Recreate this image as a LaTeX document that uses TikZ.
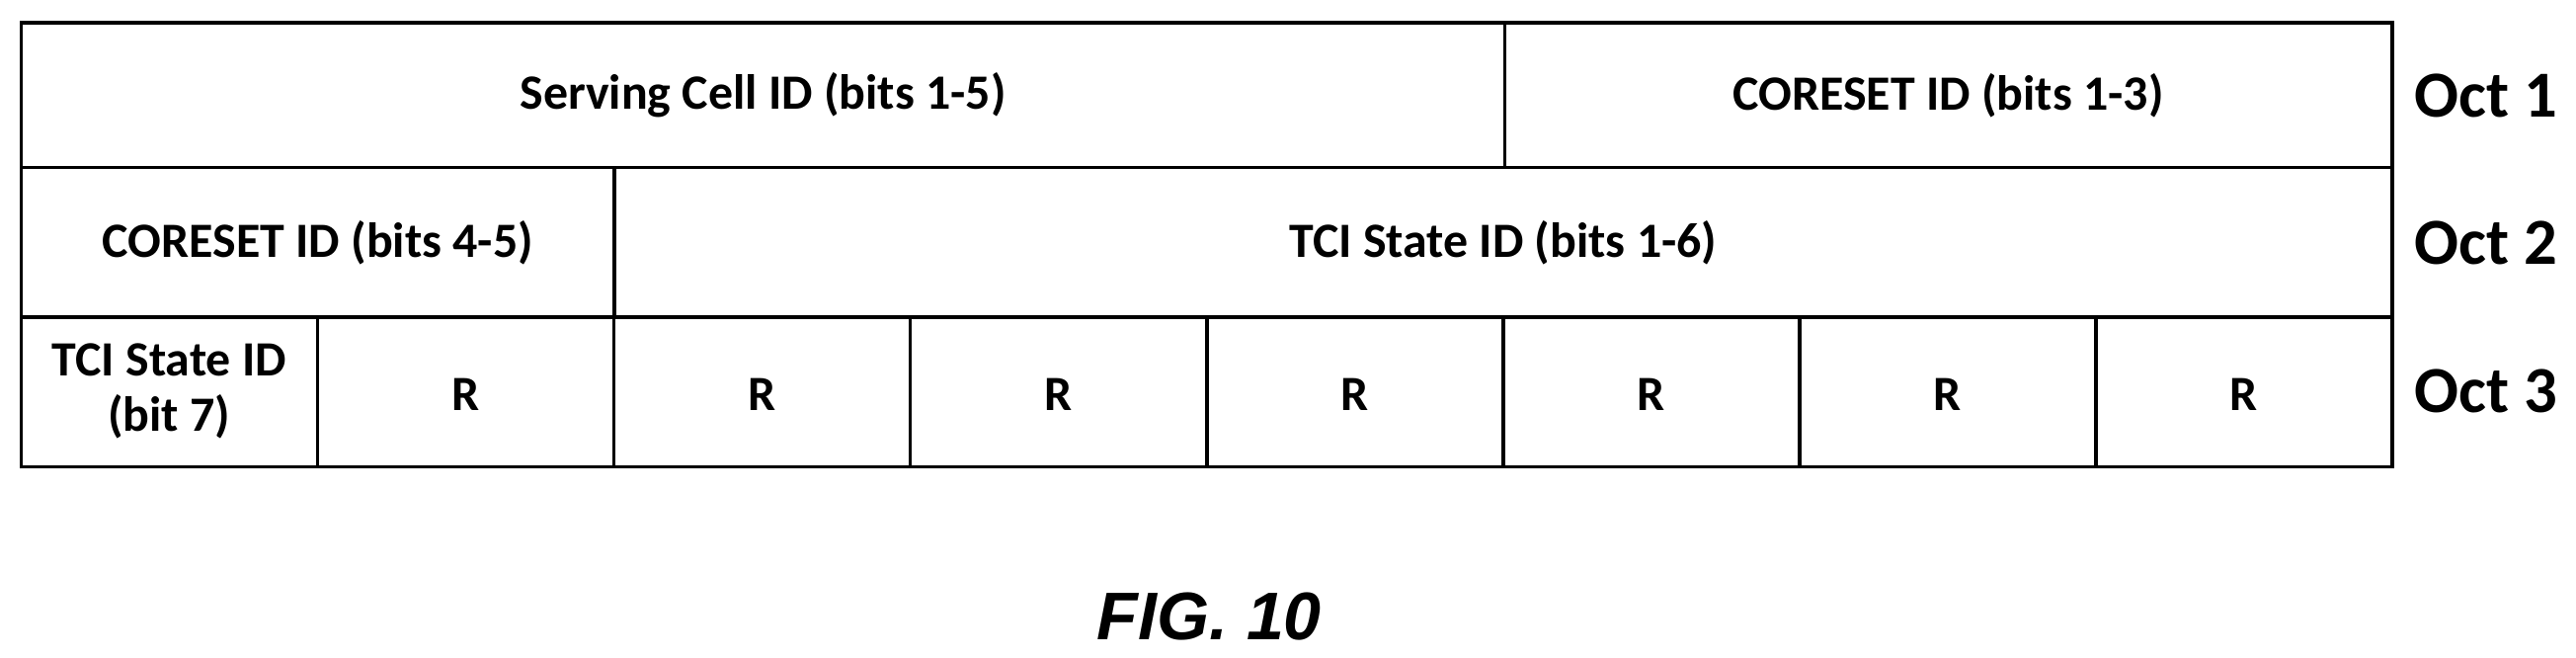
\documentclass[tikz,border=0pt]{standalone}
\usepackage{fontspec}
\setmainfont{Carlito}
\newfontfamily\figfont{Liberation Sans}
\begin{document}
\begin{tikzpicture}[x=1pt,y=-1pt,
  cell/.style={inner sep=0pt,font=\fontsize{30}{34}\selectfont\bfseries,align=center},
  ln/.style={line width=2.2pt},
  oct/.style={font=\fontsize{40}{44}\selectfont\bfseries}]
\useasboundingbox (0,0) rectangle (1568,400);
\draw[ln] (13,14) rectangle (1456,284);
\node[cell] (sc) at ({(13+916)/2},58) {Serving Cell ID (bits 1-5)};
\node[cell] (c1) at ({(916+1456)/2},58) {CORESET ID (bits 1-3)};
\node[cell] (c2) at ({(13+374)/2},148) {CORESET ID (bits 4-5)};
\node[cell] (t1) at ({(374+1456)/2},148) {TCI State ID (bits 1-6)};
\node[cell] (t7) at (103,238) {TCI State ID\\(bit 7)};
\foreach \i in {1,...,7}{
  \node[cell] (r\i) at ({13+180.375*(\i+0.5)},240) {R};
}
\draw[ln] (13,102) -- (1456,102);
\draw[ln] (13,193) -- (1456,193);
\draw[ln] (916,14) -- (916,102);
\draw[ln] (374,102) -- (374,193);
\foreach \i in {1,...,7}{
  \draw[ln] ({13+180.375*\i},193) -- ({13+180.375*\i},284);
}
\node[oct] (o1) at (1513,58) {Oct 1};
\node[oct] (o2) at (1513,148) {Oct 2};
\node[oct] (o3) at (1513,238) {Oct 3};
\node[font=\figfont\fontsize{41}{44}\selectfont\bfseries\itshape] (fig) at (736,375) {FIG. 10};
\end{tikzpicture}
\end{document}
